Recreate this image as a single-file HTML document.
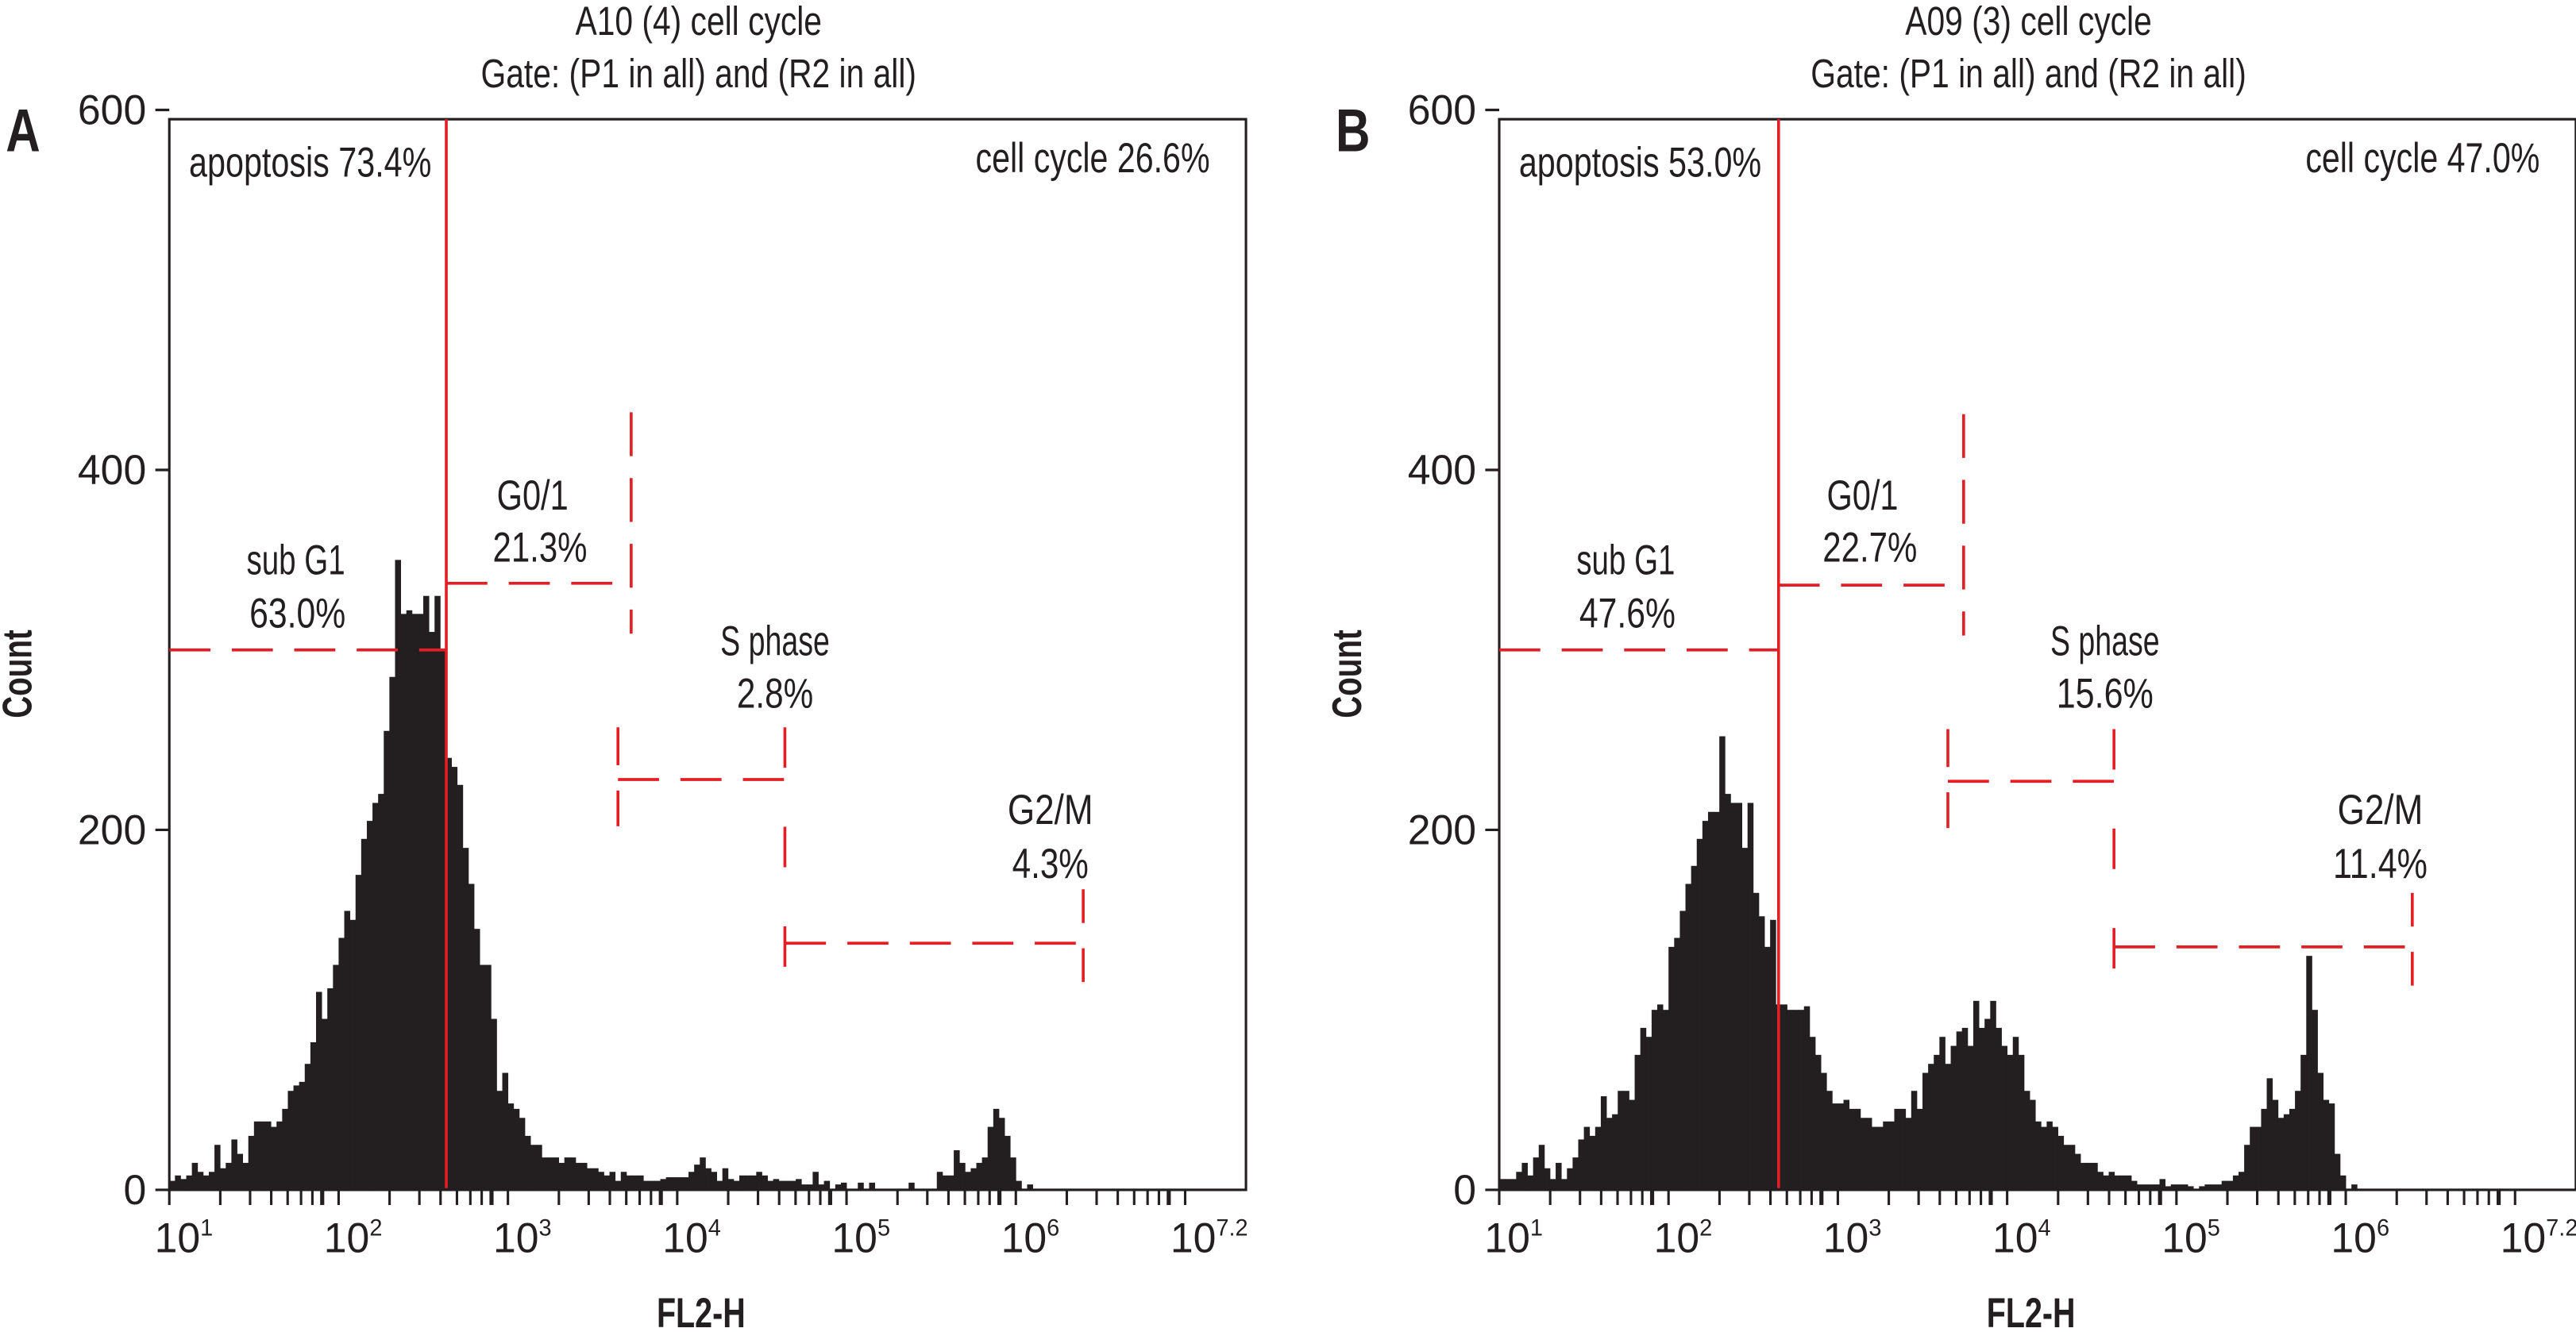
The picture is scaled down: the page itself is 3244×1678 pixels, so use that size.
<!DOCTYPE html>
<html><head><meta charset="utf-8"><style>
html,body{margin:0;padding:0;background:#fff}
svg{display:block}
text{font-family:"Liberation Sans Narrow","Liberation Sans",sans-serif;fill:#231f20}
</style></head><body>
<svg id="fig" xmlns="http://www.w3.org/2000/svg" width="3244" height="1678" viewBox="0 0 3244 1678">
<rect width="3244" height="1678" fill="#fff"/>
</svg>
<script>
const yTicks = [0, 200, 400, 600];
const decades = [1, 2, 3, 4, 5, 6, 7];
const decadeLabels = ["1", "2", "3", "4", "5", "6", "7.2"];
const countsA = [5,8,6,8,15,10,8,10,25,12,15,28,20,15,30,38,38,38,35,38,45,55,58,60,70,82,110,95,112,125,140,155,150,175,195,205,215,220,255,285,350,320,322,320,320,330,310,330,300,240,235,225,190,170,145,125,125,95,55,65,48,45,40,30,25,25,18,18,18,15,18,18,15,15,12,12,10,8,10,5,10,8,8,8,5,5,5,6,7,7,7,7,10,14,18,12,10,5,12,6,5,8,8,8,10,8,5,6,5,5,5,6,3,3,10,3,5,0,3,4,0,0,4,0,4,0,0,0,0,0,0,4,0,0,0,0,10,8,8,22,15,10,12,15,18,35,45,40,30,18,5,0,3];
const countsB = [6,6,6,10,15,8,18,25,12,6,15,6,12,18,28,35,30,35,52,40,42,55,55,50,75,90,85,100,103,100,135,140,155,170,180,195,205,210,210,252,220,215,215,190,215,165,152,135,150,103,103,100,100,100,102,85,75,65,55,48,48,50,45,45,40,40,35,35,38,38,45,45,40,55,45,65,70,75,85,70,80,88,90,80,105,90,95,105,90,80,75,85,75,55,50,38,35,38,35,30,25,25,20,15,15,15,10,8,10,8,8,8,5,3,3,3,3,6,2,3,3,3,2,0,2,3,3,3,5,5,8,10,25,35,35,45,62,50,40,42,45,55,75,130,100,65,50,48,20,8,0,3];
const gatesA = {split:2.636, subG1:300, g01:[337,3.728], s:[228,3.65,4.636], g2m:[137,6.398]};
const gatesB = {split:2.650, subG1:300, g01:[336,3.743], s:[227,3.65,4.631], g2m:[135,6.393]};

const NS = "http://www.w3.org/2000/svg";
const svg = document.getElementById('fig');
function mk(tag, attrs, parent){ const e=document.createElementNS(NS,tag); for(const k in attrs) e.setAttribute(k,attrs[k]); parent.appendChild(e); return e; }

function panel(cfg){
  const g = mk('g', {transform:`translate(${cfg.ox},10) scale(1.035,1.062)`}, svg);
  
  
  const L = cfg.left, R = cfg.left + 1310, T = 132, B0 = 1402;
  const xs = l => L + (l - 1) * 206;
  const ys = c => B0 - c * 2.135;
  const bw = 206 / 30;
  const bars = mk('g', {fill:'#231f20'}, g);
  
  
  cfg.counts.forEach((c, i) => {
    if (c <= 0) return;
    const r = mk('rect', {x:xs(1 + i/30), y:ys(c), width:bw + 0.4, height:B0 - ys(c)}, bars);
    
    
  });
  const fr = mk('rect', {x:L, y:T, width:R-L, height:B0-T, fill:'none', stroke:'#231f20', 'stroke-width':3}, g);
  
  
  yTicks.forEach(v => {
    mk('line', {x1:L-17, x2:L, y1:ys(v), y2:ys(v), stroke:'#231f20', 'stroke-width':3}, g);
    const t = mk('text', {x:L-28, y:ys(v)+17, 'text-anchor':'end', 'font-size':50}, g);
    t.textContent = v;
    
    
  });
  decades.forEach((d, di) => {
    mk('line', {x1:xs(d), x2:xs(d), y1:B0, y2:B0+18, stroke:'#231f20', 'stroke-width':3}, g);
    if (d < 7) [2,3,4,5,6,7,8].forEach(m => {
      const x = xs(d + Math.log10(m));
      mk('line', {x1:x, x2:x, y1:B0, y2:B0+18, stroke:'#231f20', 'stroke-width':(m===8?5:3)}, g);
    });
    const t = mk('text', {x:xs(d)-18, y:B0+74, 'font-size':50}, g);
    
    
    t.appendChild(document.createTextNode('10'));
    const sp = mk('tspan', {dy:-20, 'font-size':28}, t);
    sp.textContent = decadeLabels[di];
  });
  const gt = cfg.gates, red = '#e31e24';
  const gg = mk('g', {stroke:red, 'stroke-width':3.5, fill:'none'}, g);
  
  
  const sx = xs(gt.split);
  mk('line', {x1:sx, x2:sx, y1:T, y2:B0-2}, gg);
  const dash = {'stroke-dasharray':'50 26'};
  mk('line', Object.assign({x1:L, x2:sx, y1:ys(gt.subG1), y2:ys(gt.subG1)}, dash), gg);
  mk('line', Object.assign({x1:sx, x2:xs(gt.g01[1]), y1:ys(gt.g01[0]), y2:ys(gt.g01[0])}, dash), gg);
  mk('line', Object.assign({x1:xs(gt.g01[1]), x2:xs(gt.g01[1]), y1:ys(gt.g01[0]+95), y2:ys(gt.g01[0]-28)}, {'stroke-dasharray':'52 26'}), gg);
  mk('line', Object.assign({x1:xs(gt.s[1]), x2:xs(gt.s[2]), y1:ys(gt.s[0]), y2:ys(gt.s[0])}, dash), gg);
  mk('line', Object.assign({x1:xs(gt.s[1]), x2:xs(gt.s[1]), y1:ys(gt.s[0]+29), y2:ys(gt.s[0]-26)}, {'stroke-dasharray':'45 30'}), gg);
  mk('line', Object.assign({x1:xs(gt.s[2]), x2:xs(gt.s[2]), y1:ys(gt.s[0]+29), y2:ys(gt.g2m[0]-27)}, {'stroke-dasharray':'48 70'}), gg);
  mk('line', Object.assign({x1:xs(gt.s[2]), x2:xs(gt.g2m[1]), y1:ys(gt.g2m[0]), y2:ys(gt.g2m[0])}, dash), gg);
  mk('line', Object.assign({x1:xs(gt.g2m[1]), x2:xs(gt.g2m[1]), y1:ys(gt.g2m[0]+30), y2:ys(gt.g2m[0]-27)}, {'stroke-dasharray':'40 30'}), gg);
  cfg.texts.forEach(tx => {
    const a = {x:tx[1], y:tx[2], 'font-size':tx[4]||48, 'text-anchor':tx[5]||'middle'};
    if (tx[3]) { a.textLength = tx[3]; a.lengthAdjust = 'spacingAndGlyphs'; }
    if (tx[6]) a['font-weight'] = 'bold';
    const t = mk('text', a, g);
    t.textContent = tx[0];
    
    
  });
  const c = mk('text', {x:0, y:0, 'font-size':50, 'font-weight':'bold', 'text-anchor':'middle', transform:`translate(${cfg.left-168},790) rotate(-90)`, textLength:105, lengthAdjust:'spacingAndGlyphs'}, g);
  c.textContent = 'Count';
  
  
}

function texts(d, t){
  return [
    [t.title, 850+d, 32, 300, 48, 'middle', false, 'panel-title'],
    ['Gate: (P1 in all) and (R2 in all)', 850+d, 94, 530, 48, 'middle', false, 'gate-subtitle'],
    [t.letter, 28+d, 170, 42, 72, 'middle', true, 'panel-letter'],
    ['apoptosis ' + t.apo, 230+d, 200, 295, 50, 'start', false, 'apoptosis-label'],
    ['cell cycle ' + t.cc, 1472+d, 195, 285, 50, 'end', false, 'cell-cycle-label'],
    ['sub G1', 360+d, 672, 120, 50, 'middle', false, 'subg1-label'],
    [t.sub, 362+d, 735, 117, 50, 'middle', false, 'subg1-value'],
    ['G0/1', 648+d, 595, 87, 50, 'middle', false, 'g01-label'],
    [t.g01, 657+d, 657, 115, 50, 'middle', false, 'g01-value'],
    ['S phase', 943+d, 768, 133, 50, 'middle', false, 's-phase-label'],
    [t.s, 943+d, 830, t.s.length>4?118:93, 50, 'middle', false, 's-phase-value'],
    ['G2/M', 1278+d, 968, 104, 50, 'middle', false, 'g2m-label'],
    [t.g2m, 1278+d, 1032, t.g2m.length>4?115:93, 50, 'middle', false, 'g2m-value'],
    ['FL2-H', 853+d, 1565, 108, 50, 'middle', true, 'x-axis-title']
  ];
}

panel({ox:0, left:206, name:'panel-a', counts:countsA, gates:gatesA,
  texts:texts(0, {title:'A10 (4) cell cycle', letter:'A', apo:'73.4%', cc:'26.6%', sub:'63.0%', g01:'21.3%', s:'2.8%', g2m:'4.3%'})});
panel({ox:1622, left:257, name:'panel-b', counts:countsB, gates:gatesB,
  texts:texts(51, {title:'A09 (3) cell cycle', letter:'B', apo:'53.0%', cc:'47.0%', sub:'47.6%', g01:'22.7%', s:'15.6%', g2m:'11.4%'})});
</script>
</body></html>
